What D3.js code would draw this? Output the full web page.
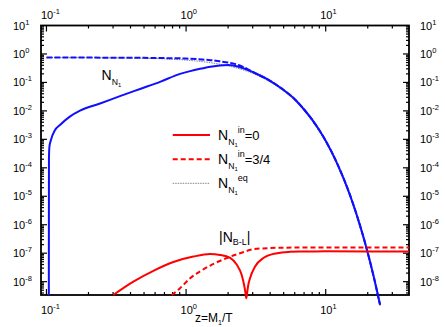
<!DOCTYPE html>
<html>
<head>
<meta charset="utf-8">
<script src="https://cdn.jsdelivr.net/npm/d3@7"></script>
<style>
body { margin: 0; background: #fff; }
svg { display: block; }
text { font-family: "Liberation Sans", Arial, sans-serif; fill: #000; }
</style>
</head>
<body>
<script>
// values (z = M1/T on x, abundance on y)
var blueSolidZ = [0.1040, 0.1042, 0.1050, 0.1077, 0.115, 0.125, 0.147, 0.174, 0.242, 0.336, 0.468, 0.651, 0.906, 1.07, 1.26, 1.5, 1.75, 2.0, 2.3, 2.6, 3, 4, 5, 6, 7, 8, 10, 12, 15, 18, 20, 22, 24.5];
var blueSolidN = [3.4e-9, 2e-4, 5.5e-4, 9.5e-4, 2.1e-3, 3.2e-3, 6.3e-3, 1.02e-2, 1.82e-2, 3.3e-2, 5.9e-2, 0.105, 0.20, 0.25, 0.30, 0.355, 0.394, 0.407, 0.37, 0.31, 0.232, 0.114, 0.054, 0.0258, 0.0112, 4.9e-3, 8.9e-4, 1.53e-4, 1.04e-5, 6.6e-7, 1.04e-7, 1.6e-8, 1.55e-9];

var blueDashZ = [0.1, 0.2, 0.3, 0.5, 0.7, 1.0, 1.3, 1.5, 1.75, 2.0, 2.17, 2.4, 2.56, 2.8, 3, 4, 5, 6, 7, 8, 10, 12, 15, 18, 20, 22, 24.5];
var blueDashN = [0.748, 0.745, 0.74, 0.73, 0.715, 0.69, 0.64, 0.605, 0.55, 0.50, 0.465, 0.40, 0.35, 0.28, 0.233, 0.114, 0.054, 0.0258, 0.0112, 4.9e-3, 8.9e-4, 1.53e-4, 1.04e-5, 6.6e-7, 1.04e-7, 1.6e-8, 1.55e-9];

var eqZ = [0.1, 0.2, 0.3, 0.5, 0.7, 1, 1.5, 2, 2.5, 3, 4, 5, 6, 7, 8, 10, 12, 15, 18, 20, 22, 24.5];
var eqN = [0.748, 0.743, 0.733, 0.708, 0.673, 0.609, 0.492, 0.381, 0.285, 0.208, 0.104, 0.0498, 0.0235, 0.0102, 4.45e-3, 8.07e-4, 1.40e-4, 9.43e-6, 6.05e-7, 9.49e-8, 1.47e-8, 1.41e-9];

var redSolidZ = [0.301, 0.419, 0.583, 0.811, 1.128, 1.486, 1.75, 2.07, 2.31, 2.5, 2.62, 2.66, 2.70, 2.74, 2.78, 2.87, 3.12, 3.58, 4.47, 5.56, 6.56, 10, 20, 39.5];
var redSolidN = [3.4e-9, 1.0e-8, 2.4e-8, 4.9e-8, 7.6e-8, 9.3e-8, 8.7e-8, 6.8e-8, 3.9e-8, 1.74e-8, 6.5e-9, 4.2e-9, 2.6e-9, 4.2e-9, 7e-9, 1.32e-8, 3.4e-8, 6.8e-8, 1.0e-7, 1.12e-7, 1.15e-7, 1.16e-7, 1.15e-7, 1.15e-7];

var redDashZ = [0.79, 0.905, 1.07, 1.26, 1.57, 1.96, 2.44, 3.04, 4.0, 5.27, 6.56, 10, 20, 39.5];
var redDashN = [3.4e-9, 5.9e-9, 1.32e-8, 2.3e-8, 4.2e-8, 6.8e-8, 1.0e-7, 1.38e-7, 1.52e-7, 1.57e-7, 1.58e-7, 1.58e-7, 1.58e-7, 1.58e-7];

var xMajor = [0.1, 1, 10];
var xMajorExp = ["-1", "0", "1"];
var yMajor = [1e1, 1e0, 1e-1, 1e-2, 1e-3, 1e-4, 1e-5, 1e-6, 1e-7, 1e-8];
var yMajorExp = ["1", "0", "-1", "-2", "-3", "-4", "-5", "-6", "-7", "-8"];

var W = 445, H = 327;
var svg = d3.select("body").append("svg").attr("width", W).attr("height", H);

var xScale = d3.scaleLog().domain([0.0914, 39.5]).range([41, 409]);
var yScale = d3.scaleLog().domain([3.4e-9, 10]).range([295, 25.5]);

// minor ticks 2..9 inside every decade that shows
function minorTicks(scale) {
    var d = scale.domain(), out = [];
    for (var e = -10; e <= 2; e++) {
        for (var k = 2; k <= 9; k++) {
            var v = k * Math.pow(10, e);
            if (v >= d[0] && v <= d[1]) out.push(v);
        }
    }
    return out;
}

var ticks = svg.append("g");
function drawTicks(vals, len) {
    vals.forEach(function(v) {
        var x = xScale(v);
        ticks.append("line").attr("x1", x).attr("x2", x).attr("y1", 25.5).attr("y2", 25.5 + len);
        ticks.append("line").attr("x1", x).attr("x2", x).attr("y1", 295).attr("y2", 295 - len);
    });
}
function drawYTicks(vals, len) {
    vals.forEach(function(v) {
        var y = yScale(v);
        ticks.append("line").attr("x1", 41).attr("x2", 41 + len).attr("y1", y).attr("y2", y);
        ticks.append("line").attr("x1", 409).attr("x2", 409 - len).attr("y1", y).attr("y2", y);
    });
}
drawTicks(xMajor, 6);
drawTicks(minorTicks(xScale), 3);
drawYTicks(yMajor.filter(function(v) { return v < 10; }), 6);
drawYTicks(minorTicks(yScale), 3);
ticks.selectAll("line").attr("stroke", "#000").attr("stroke-width", 1.2);

// frame
svg.append("rect").attr("x", 41).attr("y", 25.5).attr("width", 368).attr("height", 269.5)
    .attr("fill", "none").attr("stroke", "#000").attr("stroke-width", 1.8);

// tick labels "10" with raised exponent
function powLabel(x, y, exp) {
    var t = svg.append("text").attr("x", x).attr("y", y).attr("font-size", 11);
    t.append("tspan").text("10");
    t.append("tspan").attr("dy", -5).attr("font-size", 7.5).text(exp);
}
xMajor.forEach(function(v, i) {
    powLabel(xScale(v) - 5.5, 18.5, xMajorExp[i]);
    powLabel(xScale(v) - 5.5, 314, xMajorExp[i]);
});
yMajor.forEach(function(v, i) {
    powLabel(13, yScale(v) + 4, yMajorExp[i]);
    powLabel(420, yScale(v) + 4, yMajorExp[i]);
});

// axis title
var xt = svg.append("text").attr("x", 195).attr("y", 322).attr("font-size", 12);
xt.append("tspan").text("z=M");
xt.append("tspan").attr("dy", 2.5).attr("font-size", 7).text("1");
xt.append("tspan").attr("dy", -2.5).text("/T");

// curves
function pts(zs, ns) { return zs.map(function(z, i) { return [z, ns[i]]; }); }
var line = d3.line()
    .x(function(d) { return xScale(d[0]); })
    .y(function(d) { return yScale(d[1]); })
    .curve(d3.curveMonotoneX);

svg.append("path").attr("d", line(pts(eqZ, eqN)))
    .attr("fill", "none").attr("stroke", "#666").attr("stroke-width", 0.8).attr("stroke-dasharray", "1.5,1");
svg.append("path").attr("d", line(pts(blueDashZ, blueDashN)))
    .attr("fill", "none").attr("stroke", "#1010ff").attr("stroke-width", 2).attr("stroke-dasharray", "6,2");
svg.append("path").attr("d", line(pts(blueSolidZ, blueSolidN)))
    .attr("fill", "none").attr("stroke", "#1010ff").attr("stroke-width", 2);
svg.append("path").attr("d", line(pts(redDashZ, redDashN)))
    .attr("fill", "none").attr("stroke", "#ff0000").attr("stroke-width", 2).attr("stroke-dasharray", "5,3");
svg.append("path").attr("d", line(pts(redSolidZ, redSolidN)))
    .attr("fill", "none").attr("stroke", "#ff0000").attr("stroke-width", 2);

// curve labels
function nLabel(x, y, size) {
    var t = svg.append("text").attr("x", x).attr("y", y).attr("font-size", size);
    t.append("tspan").text("N");
    t.append("tspan").attr("dy", 5).attr("font-size", size * 0.62).text("N");
    t.append("tspan").attr("dy", 2).attr("font-size", size * 0.42).text("1");
    return t;
}
nLabel(101.5, 80, 14);

var bl = svg.append("text").attr("x", 219).attr("y", 242).attr("font-size", 14);
bl.append("tspan").text("|N");
bl.append("tspan").attr("dy", 3).attr("font-size", 9).text("B-L");
bl.append("tspan").attr("dy", -3).text("|");

// legend
var legendRows = [
    { y: 135, color: "#ff0000", dash: null, width: 2, sup: "in", tail: "=0" },
    { y: 159.3, color: "#ff0000", dash: "5,3", width: 2, sup: "in", tail: "=3/4" },
    { y: 183.3, color: "#666", dash: "1.5,1", width: 0.8, sup: "eq", tail: "" }
];
legendRows.forEach(function(r) {
    svg.append("line").attr("x1", 172.7).attr("x2", 210).attr("y1", r.y).attr("y2", r.y)
        .attr("stroke", r.color).attr("stroke-width", r.width).attr("stroke-dasharray", r.dash);
    var t = nLabel(218, r.y + 4.5, 14);
    t.append("tspan").attr("dy", -14).attr("font-size", 9).text(r.sup);
    t.append("tspan").attr("dy", 7).attr("font-size", 13).text(r.tail);
});
</script>
</body>
</html>
